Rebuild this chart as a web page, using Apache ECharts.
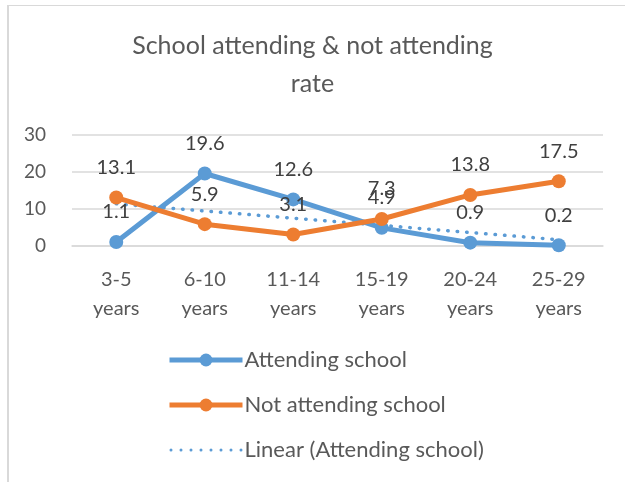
<!DOCTYPE html>
<html>
<head>
<meta charset="utf-8">
<title>School attending & not attending rate</title>
<script src="https://cdn.jsdelivr.net/npm/echarts@6/dist/echarts.min.js"></script>
<style>
  html, body { margin: 0; padding: 0; background: #fff; }
  #frame {
    position: absolute; left: 7px; top: 5px; width: 618px; height: 477px;
    border-left: 2px solid #d9d9d9; border-top: 1px solid #d9d9d9;
  }
  #chart { position: absolute; left: -9px; top: -6px; width: 625px; height: 482px; }
</style>
</head>
<body>
<div id="frame"><div id="chart"></div></div>
<script>
  // chart values
  const ageGroups = ["3-5\nyears", "6-10\nyears", "11-14\nyears", "15-19\nyears", "20-24\nyears", "25-29\nyears"];
  const attending = [1.1, 19.6, 12.6, 4.9, 0.9, 0.2];
  const notAttending = [13.1, 5.9, 3.1, 7.3, 13.8, 17.5];
  // linear trend of "Attending school": ends only
  const attendingTrend = [11.4, null, null, null, null, 1.7];
  const yTicks = [0, 10, 20, 30];

  const FONT = "Lato, 'Noto Sans', sans-serif";
  const TEXT = "#595959";
  const BLUE = "#5b9bd5";
  const ORANGE = "#ed7d31";

  // dotted legend swatch for the trend line (8 round dots)
  function dottedIcon() {
    let d = "path://";
    for (let i = 0; i < 8; i++) {
      const x = i * 10;
      d += "M" + x + ",1.5a1.5,1.5 0 1,0 3,0a1.5,1.5 0 1,0 -3,0z";
    }
    return d;
  }

  const chart = echarts.init(document.getElementById("chart"));

  const dataLabel = {
    show: true,
    position: "top",
    distance: 13,
    color: "#404040",
    fontSize: 20,
    fontFamily: FONT,
  };

  chart.setOption({
    textStyle: { fontFamily: FONT },
    title: {
      text: "School attending & not attending\nrate",
      left: "center",
      top: 22,
      textStyle: { fontSize: 25, fontWeight: "normal", color: TEXT, lineHeight: 38, fontFamily: FONT },
    },
    grid: { left: 72, right: 22, top: 135, bottom: 236 },
    xAxis: {
      type: "category",
      data: ageGroups,
      boundaryGap: true,
      axisLine: { lineStyle: { color: "#d9d9d9", width: 1.5 } },
      axisTick: { show: false },
      axisLabel: { color: TEXT, fontSize: 20, lineHeight: 29, margin: 19, fontFamily: FONT },
    },
    yAxis: {
      type: "value",
      min: yTicks[0],
      max: yTicks[yTicks.length - 1],
      interval: 10,
      axisLine: { show: false },
      axisTick: { show: false },
      splitLine: { lineStyle: { color: "#d9d9d9", width: 1.5 } },
      axisLabel: { color: TEXT, fontSize: 19, margin: 26, fontFamily: FONT },
    },
    legend: {
      orient: "vertical",
      left: 162,
      top: 344,
      itemWidth: 73,
      itemHeight: 16,
      itemGap: 23,
      textStyle: { color: TEXT, fontSize: 22, fontFamily: FONT, padding: [0, 0, 0, -3] },
      data: [
        { name: "Attending school", lineStyle: { width: 5 } },
        { name: "Not attending school", lineStyle: { width: 5 } },
        { name: "Linear (Attending school)", icon: dottedIcon() },
      ],
    },
    series: [
      {
        name: "Attending school",
        type: "line",
        data: attending,
        color: BLUE,
        symbol: "circle",
        symbolSize: 14,
        lineStyle: { width: 5, color: BLUE },
        itemStyle: { color: BLUE },
        label: dataLabel,
        z: 3,
      },
      {
        name: "Not attending school",
        type: "line",
        data: notAttending,
        color: ORANGE,
        symbol: "circle",
        symbolSize: 14,
        lineStyle: { width: 5, color: ORANGE },
        itemStyle: { color: ORANGE },
        label: dataLabel,
        z: 4,
      },
      {
        name: "Linear (Attending school)",
        type: "line",
        data: attendingTrend,
        connectNulls: true,
        color: BLUE,
        symbol: "none",
        lineStyle: { width: 3.5, color: BLUE, type: [0.5, 9], cap: "round" },
        itemStyle: { color: BLUE },
        silent: true,
        z: 2,
      },
    ],
  });
</script>
</body>
</html>
